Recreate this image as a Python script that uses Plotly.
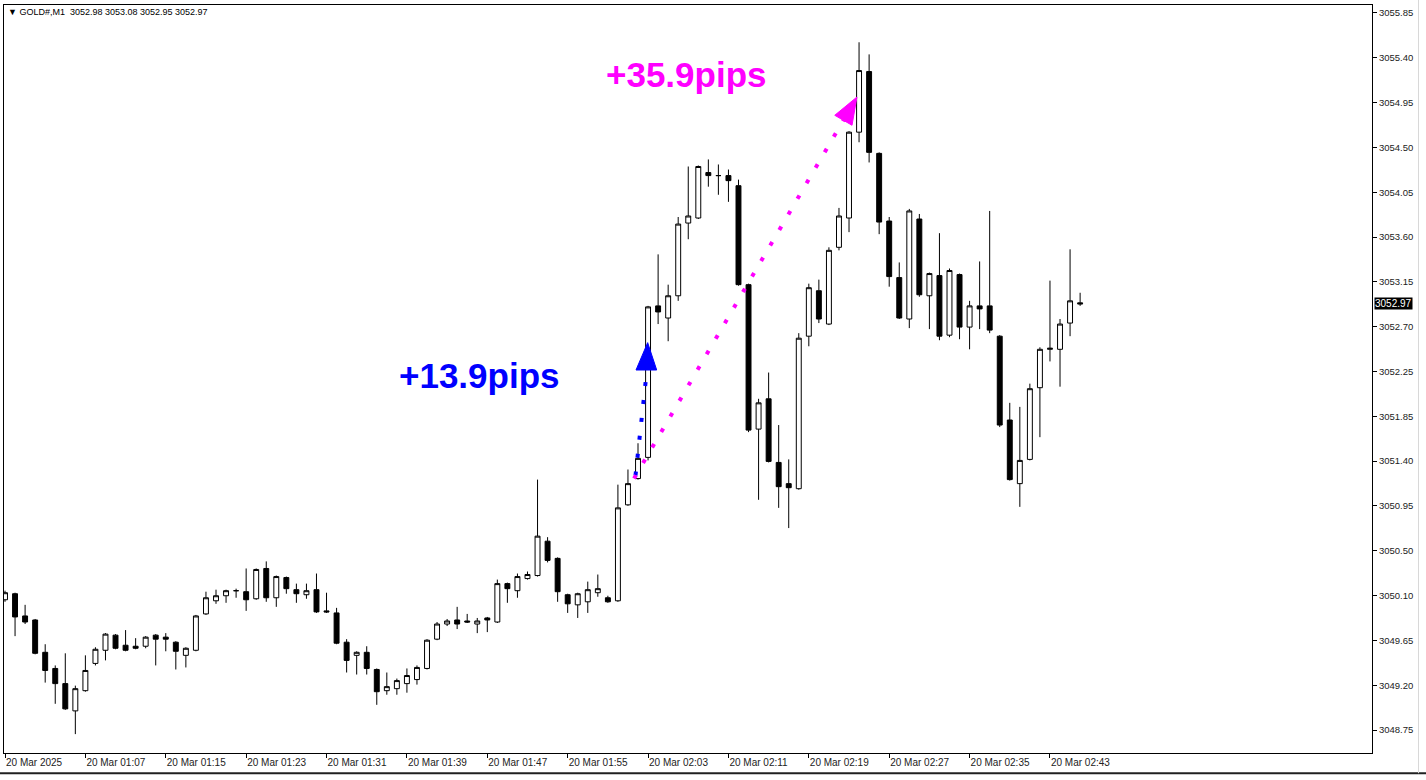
import plotly.graph_objects as go

# GOLD#, M1 candles (bar index 0 = first visible bar)
opens = [
    3050.04, 3050.10, 3049.88, 3049.84, 3049.52, 3049.36, 3049.21, 3048.94, 3049.14, 3049.41,
    3049.54, 3049.69, 3049.59, 3049.58, 3049.58, 3049.69, 3049.67, 3049.62, 3049.49, 3049.54,
    3049.90, 3050.03, 3050.08, 3050.13, 3050.12, 3050.05, 3050.35, 3050.06, 3050.26, 3050.14,
    3050.09, 3050.14, 3049.93, 3049.91, 3049.62, 3049.49, 3049.52, 3049.35, 3049.14, 3049.16,
    3049.21, 3049.25, 3049.36, 3049.65, 3049.80, 3049.84, 3049.83, 3049.80, 3049.86, 3049.82,
    3050.20, 3050.13, 3050.25, 3050.28, 3050.62, 3050.45, 3050.09, 3049.99, 3050.02, 3050.11,
    3050.06, 3050.03, 3050.98, 3051.24, 3051.45, 3052.95, 3052.83, 3053.05, 3053.77, 3053.82,
    3054.27, 3054.24, 3054.24, 3054.14, 3053.16, 3051.73, 3052.03, 3051.40, 3051.19, 3051.14,
    3052.65, 3053.10, 3052.77, 3053.53, 3053.82, 3054.67, 3055.27, 3054.46, 3053.79, 3053.23,
    3052.82, 3053.81, 3053.05, 3053.25, 3052.66, 3053.26, 3052.74, 3052.95, 3052.95, 3052.65,
    3051.82, 3051.19, 3051.43, 3052.14, 3052.52, 3052.52, 3052.78, 3052.98,
]
highs = [
    3050.13, 3050.11, 3049.99, 3049.85, 3049.60, 3049.39, 3049.51, 3049.19, 3049.49, 3049.57,
    3049.71, 3049.70, 3049.74, 3049.66, 3049.68, 3049.70, 3049.71, 3049.63, 3049.57, 3049.89,
    3050.12, 3050.14, 3050.14, 3050.15, 3050.35, 3050.35, 3050.42, 3050.28, 3050.27, 3050.20,
    3050.20, 3050.30, 3050.11, 3049.96, 3049.65, 3049.53, 3049.58, 3049.36, 3049.32, 3049.26,
    3049.36, 3049.39, 3049.65, 3049.82, 3049.85, 3049.97, 3049.90, 3049.86, 3049.87, 3050.24,
    3050.21, 3050.30, 3050.32, 3051.23, 3050.66, 3050.46, 3050.10, 3050.11, 3050.22, 3050.29,
    3050.08, 3051.18, 3051.33, 3051.59, 3052.95, 3053.46, 3053.16, 3053.83, 3054.33, 3054.34,
    3054.40, 3054.35, 3054.30, 3054.20, 3053.17, 3052.03, 3052.29, 3051.77, 3051.43, 3052.68,
    3053.17, 3053.21, 3053.53, 3053.92, 3054.68, 3055.56, 3055.44, 3054.47, 3053.83, 3053.38,
    3053.91, 3053.86, 3053.28, 3053.67, 3053.32, 3053.27, 3053.00, 3053.39, 3053.89, 3052.66,
    3051.99, 3051.95, 3052.18, 3052.54, 3053.20, 3052.82, 3053.51, 3053.08,
]
lows = [
    3050.02, 3049.68, 3049.80, 3049.50, 3049.22, 3049.01, 3048.95, 3048.71, 3049.13, 3049.39,
    3049.44, 3049.55, 3049.53, 3049.55, 3049.56, 3049.39, 3049.53, 3049.35, 3049.37, 3049.53,
    3049.89, 3050.00, 3050.01, 3050.06, 3049.93, 3050.04, 3050.02, 3049.97, 3050.10, 3050.01,
    3050.05, 3049.91, 3049.91, 3049.60, 3049.32, 3049.30, 3049.30, 3049.00, 3049.10, 3049.10,
    3049.12, 3049.20, 3049.35, 3049.64, 3049.78, 3049.75, 3049.81, 3049.71, 3049.72, 3049.81,
    3050.01, 3050.06, 3050.24, 3050.27, 3050.41, 3050.02, 3049.91, 3049.86, 3049.91, 3050.07,
    3050.01, 3050.02, 3050.97, 3051.23, 3051.42, 3052.77, 3052.60, 3053.00, 3053.61, 3053.81,
    3054.13, 3054.05, 3053.98, 3053.15, 3051.70, 3051.03, 3051.40, 3050.95, 3050.75, 3051.13,
    3052.55, 3052.78, 3052.76, 3053.50, 3053.68, 3054.57, 3054.37, 3053.66, 3053.14, 3052.82,
    3052.73, 3053.04, 3052.72, 3052.61, 3052.64, 3052.62, 3052.52, 3052.72, 3052.68, 3051.75,
    3051.22, 3050.96, 3051.42, 3051.65, 3052.40, 3052.15, 3052.65, 3052.95,
]
closes = [
    3050.11, 3049.87, 3049.82, 3049.51, 3049.34, 3049.21, 3048.96, 3049.16, 3049.34, 3049.55,
    3049.70, 3049.56, 3049.54, 3049.56, 3049.67, 3049.65, 3049.65, 3049.53, 3049.56, 3049.88,
    3050.06, 3050.08, 3050.13, 3050.13, 3050.04, 3050.34, 3050.06, 3050.27, 3050.15, 3050.10,
    3050.13, 3049.92, 3049.92, 3049.61, 3049.44, 3049.52, 3049.36, 3049.13, 3049.18, 3049.24,
    3049.29, 3049.37, 3049.64, 3049.80, 3049.83, 3049.80, 3049.82, 3049.83, 3049.84, 3050.20,
    3050.15, 3050.27, 3050.29, 3050.67, 3050.43, 3050.12, 3050.00, 3050.10, 3050.14, 3050.15,
    3050.02, 3050.95, 3051.19, 3051.44, 3052.94, 3052.89, 3053.05, 3053.76, 3053.84, 3054.33,
    3054.24, 3054.24, 3054.19, 3053.16, 3051.72, 3051.99, 3051.41, 3051.16, 3051.15, 3052.63,
    3053.13, 3052.82, 3053.50, 3053.84, 3054.67, 3055.28, 3054.47, 3053.78, 3053.24, 3052.83,
    3053.89, 3053.06, 3053.27, 3052.65, 3053.30, 3052.74, 3052.95, 3052.92, 3052.71, 3051.77,
    3051.23, 3051.42, 3052.13, 3052.52, 3052.53, 3052.77, 3053.00, 3052.97,
]

time_tick_bars = [0, 8, 16, 24, 32, 40, 48, 56, 64, 72, 80, 88, 96, 104]
time_tick_labels = [
    "20 Mar 2025", "20 Mar 01:07", "20 Mar 01:15", "20 Mar 01:23", "20 Mar 01:31",
    "20 Mar 01:39", "20 Mar 01:47", "20 Mar 01:55", "20 Mar 02:03", "20 Mar 02:11",
    "20 Mar 02:19", "20 Mar 02:27", "20 Mar 02:35", "20 Mar 02:43",
]
price_tick_labels = [
    "3055.85", "3055.40", "3054.95", "3054.50", "3054.05", "3053.60", "3053.15", "3052.70",
    "3052.25", "3051.85", "3051.40", "3050.95", "3050.50", "3050.10", "3049.65", "3049.20",
    "3048.75",
]
price_top, price_bottom = 3055.85, 3048.75
step = (price_top - price_bottom) / (len(price_tick_labels) - 1)
price_tick_vals = [price_top - k * step for k in range(len(price_tick_labels))]

header = "\u25bc GOLD#,M1  3052.98 3053.08 3052.95 3052.97"
last_price = 3052.97

# arrows drawn on the chart: (start bar, start price) -> (end bar, end price), head polygon
blue_arrow = dict(start=(62.75, 3051.27), end=(63.88, 3052.31),
                  head=[(63.96, 3052.586), (62.80, 3052.315), (64.86, 3052.315)])
pink_arrow = dict(start=(62.6, 3051.24), end=(83.45, 3054.79),
                  head=[(84.79, 3055.018), (84.30, 3054.738), (82.58, 3054.837)])

FONT = "Liberation Sans, Arial, sans-serif"

bars = list(range(len(opens)))

fig = go.Figure(
    go.Candlestick(
        x=bars,
        open=opens,
        high=highs,
        low=lows,
        close=closes,
        increasing=dict(fillcolor="white", line=dict(color="black", width=1)),
        decreasing=dict(fillcolor="black", line=dict(color="black", width=1)),
        whiskerwidth=0,
        hoverinfo="skip",
        showlegend=False,
    )
)


def add_arrow(arrow, color):
    (x0, y0), (x1, y1) = arrow["start"], arrow["end"]
    fig.add_shape(
        type="line", xref="x", yref="y", x0=x0, y0=y0, x1=x1, y1=y1,
        line=dict(color=color, width=4, dash="4px,14px"),
    )
    pts = arrow["head"]
    path = "M " + " L ".join(f"{x},{y}" for x, y in pts) + " Z"
    fig.add_shape(type="path", xref="x", yref="y", path=path,
                  fillcolor=color, line=dict(color=color, width=1))


add_arrow(blue_arrow, "#0000FF")
add_arrow(pink_arrow, "#FF00FF")

fig.add_annotation(x=67.8, y=3055.245, xref="x", yref="y", text="<b>+35.9pips</b>",
                   showarrow=False, font=dict(family=FONT, size=35, color="#FF00FF"))
fig.add_annotation(x=47.2, y=3052.265, xref="x", yref="y", text="<b>+13.9pips</b>",
                   showarrow=False, font=dict(family=FONT, size=35, color="#0000FF"))

fig.add_annotation(x=0.0015, y=1, xref="paper", yref="paper", xanchor="left", yanchor="top",
                   text=header, showarrow=False,
                   font=dict(family=FONT, size=9, color="black"))

fig.add_annotation(x=1, y=last_price, xref="paper", yref="y", xanchor="left", yanchor="middle",
                   xshift=2, text=f"{last_price:.2f}", showarrow=False,
                   bgcolor="black", borderpad=0,
                   font=dict(family=FONT, size=10, color="white"))

# window frame lines outside the plot
fig.add_shape(type="line", xref="paper", yref="paper", x0=-0.01, x1=1.04, y0=-0.027, y1=-0.027,
              line=dict(color="#202020", width=2))
fig.add_shape(type="line", xref="paper", yref="paper", x0=1.034, x1=1.034, y0=-0.027, y1=1.01,
              line=dict(color="#d8d8d8", width=1))

fig.update_layout(
    width=1426,
    height=780,
    margin=dict(l=4, r=54, t=5, b=27),
    paper_bgcolor="white",
    plot_bgcolor="white",
    font=dict(family=FONT, size=10, color="black"),
    showlegend=False,
    xaxis=dict(
        range=[-0.1, 136.05],
        rangeslider=dict(visible=False),
        tickvals=time_tick_bars,
        ticktext=time_tick_labels,
        ticklabelposition="outside right",
        ticks="outside",
        ticklen=4,
        tickcolor="black",
        showgrid=False,
        zeroline=False,
        showline=True,
        linecolor="black",
        linewidth=1,
        mirror=True,
        tickfont=dict(family=FONT, size=10, color="#222"),
    ),
    yaxis=dict(
        side="right",
        range=[3048.523, 3055.929],
        tickvals=price_tick_vals,
        ticktext=price_tick_labels,
        ticks="outside",
        ticklen=4,
        tickcolor="black",
        showgrid=False,
        zeroline=False,
        showline=True,
        linecolor="black",
        linewidth=1,
        mirror=True,
        tickfont=dict(family=FONT, size=9.5, color="#222"),
    ),
)

# the page body has a default 8px margin; drop it so the chart sits at the window origin
fig.write_html(
    "out.html",
    config={"displayModeBar": False},
    post_script="document.body.style.margin='0'; document.body.style.overflow='hidden';",
)
